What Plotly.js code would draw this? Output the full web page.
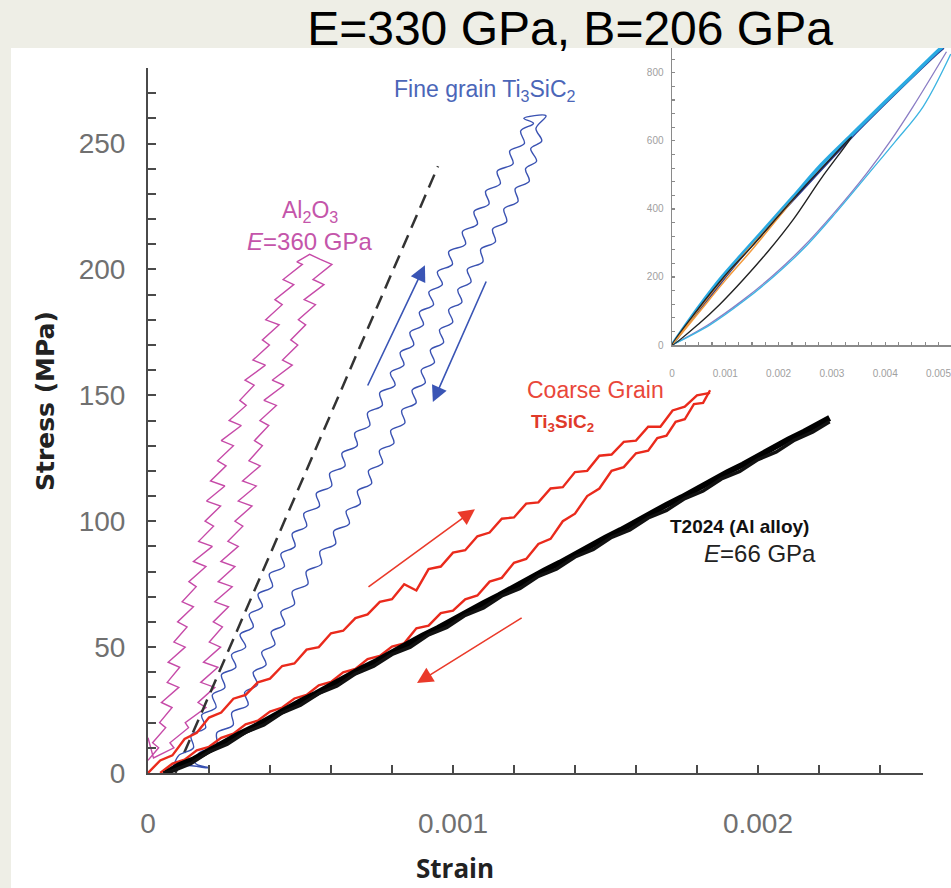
<!DOCTYPE html>
<html><head><meta charset="utf-8">
<script src="https://cdn.plot.ly/plotly-3.0.1.min.js"></script>
<style>
html,body{margin:0;padding:0;background:#eeeee6;width:951px;height:888px;overflow:hidden}
#panel{position:absolute;left:11px;top:48px;width:940px;height:840px;background:#fff}
#chart{position:absolute;left:0;top:0;width:951px;height:888px}
</style></head><body>
<div id="panel"></div><div id="chart"></div>
<script>
// ---- data (strain in microstrain, stress in MPa) ----
const al2o3StrainMicro = [0,35,15,58,38,79,44,101,63,104,66,122,85,128,97,149,112,158,134,190,149,211,166,215,187,238,192,252,205,256,228,280,240,306,266,322,301,348,318,385,344,398,375,430,386,440,416,478,443,506,488,
  530,565,
  603,541,577,512,549,493,517,468,491,441,473,407,446,380,421,367,396,349,375,331,368,310,355,296,341,285,311,262,296,239,285,230,276,219,264,214,244,201,238,182,229,173,219,164,190,122,133,72,85,18,
  0];
const al2o3Stress = [5,10,12,18,20,26,28,34,36,42,44,50,52,58,60,66,68,74,76,82,84,90,92,98,100,106,108,114,116,122,124,130,132,138,140,146,148,154,156,162,164,170,172,178,180,186,188,194,196,202,203,
  206,204,
  202,196,194,188,186,180,178,172,170,164,162,156,154,148,146,140,138,132,130,124,122,116,114,108,106,100,98,92,90,84,82,76,74,68,66,60,58,52,50,44,42,36,34,28,26,20,18,12,10,6,
  14];

const fineStrainMicro = [82,101,149,141,189,176,223,211,252,241,288,274,320,302,345,332,375,361,408,398,447,436,482,473,520,511,562,552,602,596,646,636,686,678,727,720,768,760,810,795,839,827,871,859,903,890,936,921,965,949,998,986,1041,1031,1080,1069,1118,1107,1155,1145,1197,1186,1234,1222,1264,
  1232,1305,
  1272,1291,1255,1274,1238,1250,1204,1213,1167,1176,1130,1139,1091,1098,1047,1059,1016,1029,986,999,956,969,926,939,896,909,866,879,832,842,796,806,759,769,723,733,687,696,650,660,609,615,564,569,519,524,473,480,436,448,404,416,373,387,345,359,317,328,275,279,226,225,168,154,
  200,110,50];
const fineStress = [2,7,10,15,18,23,26,31,34,39,42,47,50,55,58,63,66,71,74,79,82,87,90,95,98,103,106,111,114,119,122,127,130,135,138,143,146,151,154,159,162,167,170,175,178,183,186,191,194,199,202,207,210,215,218,223,226,231,234,239,242,247,250,255,258,
  260,261,
  256,251,248,243,240,235,232,227,224,219,216,211,208,203,200,195,192,187,184,179,176,171,168,163,160,155,152,147,144,139,136,131,128,123,120,115,112,107,104,99,96,91,88,83,80,75,72,67,64,59,56,51,48,43,40,35,32,27,24,19,16,11,8,4,
  2,3,0];

const dashStrainMicro = [90, 951];
const dashStress = [0, 241];

const coarseLoadStrainMicro = [0,40,80,120,160,200,240,280,320,360,400,440,480,520,560,600,640,680,720,760,800,840,880,920,960,1000,1040,1080,1120,1160,1200,1240,1280,1320,1360,1400,1440,1480,1520,1560,1600,1640,1680,1720,1760,1800,1843];
const coarseLoadStress = [0,5,7,13.5,16,22,24,29.5,31,36,37.5,42.5,43.5,49,50,55.5,56.5,61.5,63,68,69,75,72.5,81,82,87.5,88.5,94,95.5,101,101.5,107,107.5,113,113.5,119.5,120,126,126.5,131.5,132,137.5,137.5,144,145.5,150,151];
const coarseUnloadStrainMicro = [1843,1820,1790,1760,1730,1700,1670,1640,1600,1560,1520,1480,1440,1400,1360,1320,1280,1240,1200,1160,1120,1080,1040,1000,960,920,880,840,800,760,720,680,640,600,560,520,480,440,400,360,320,280,240,200,160,120,80,40];
const coarseUnloadStress = [152,147,146.5,140.5,139.5,134,133,128,127,121.5,120,113,110,103,100,93,91,85,83.5,77.5,76,70.5,69,64.5,63.5,58.5,57.5,51.5,50.2,46.5,45.2,41.3,40,36.2,34.8,31,29.6,26,24.4,20.8,19.3,15.6,14,10.4,9,5.3,3.7,0];

const alloyLoadStrainMicro = [60,100,150,200,250,300,350,400,450,500,550,600,650,700,750,800,850,900,950,1000,1050,1100,1150,1200,1250,1300,1350,1400,1450,1500,1550,1600,1650,1700,1750,1800,1850,1900,1950,2000,2050,2100,2150,2200,2235];
const alloyLoadStress = [0,3,5.5,9,12,15.5,18.5,22,25,28.5,31.5,35,38,41.5,44.5,48,51,54.5,57.5,61,64,67.5,70.5,74,77,80.5,83.5,87,90,93.5,96.5,100,103,106.5,109.5,113,116,119.5,122.5,126,129,132.5,135.5,139,141];
const alloyUnloadStrainMicro = [2235,2180,2120,2060,2000,1940,1880,1820,1760,1700,1640,1580,1520,1460,1400,1340,1280,1220,1160,1100,1040,980,920,860,800,740,680,620,560,500,440,380,320,260,200,140,80,50];
const alloyUnloadStress = [139.5,135.5,132.2,127.5,124.5,119.8,116.8,112,109,104.3,101.3,96.5,93.6,88.8,85.8,81,78.1,73.3,70.3,65.6,62.6,57.8,54.9,50,47.1,42.4,39.4,34.6,31.6,26.9,23.9,19.1,16.2,11.4,8.4,3.7,0.8,0];

// inset
const insetLoadStrainMicro = [0,300,600,900,1330,1800,2270,2800,3370,4000,4500,4970,5100];
const insetLoadStress = [0,68,132,193,270,352,435,530,618,715,790,862,880];
const insetNavyStrainMicro = [0,300,700,1330,2270,3370,4300,4970,5100];
const insetNavyStress = [0,62,140,262,425,610,755,855,873];
const insetPurpleStrainMicro = [5150,4520,4100,3660,3050,2460,1900,1330,700,0];
const insetPurpleStress = [862,700,600,506,390,288,205,132,62,0];
const insetCyanThinStrainMicro = [5230,4710,4200,3700,3080,2480,1920,1350,720,0];
const insetCyanThinStress = [855,700,600,506,390,285,203,130,60,0];
const insetBlackStrainMicro = [0,500,1000,1500,2000,2500,3000,3370,2800,2270,1800,1330,900,500,0];
const insetBlackStress = [0,108,205,290,380,468,552,612,490,368,275,191,120,62,0];
const insetOrangeStrainMicro = [0,600,1200,1800,2340,2000,1500,1000,500,0];
const insetOrangeStress = [0,125,240,345,441,375,280,190,95,0];

const toStrain = a => a.map(v => v / 1e6);

// ---- traces ----
const sansFont = 'Liberation Sans, Arial, Helvetica, sans-serif';
const traces = [
  {x: toStrain(al2o3StrainMicro), y: al2o3Stress, mode:'lines', line:{color:'#c64aa8', width:1.4}, name:'Al2O3'},
  {x: toStrain(dashStrainMicro), y: dashStress, mode:'lines', line:{color:'#333', width:2.5, dash:'14px,8px'}, name:'E=330 GPa'},
  {x: toStrain(fineStrainMicro), y: fineStress, mode:'lines', line:{color:'#3a52b2', width:1.4, shape:'spline', smoothing:1}, name:'Fine grain'},
  {x: toStrain(coarseLoadStrainMicro), y: coarseLoadStress, mode:'lines', line:{color:'#ea2a1c', width:2.4}, name:'Coarse loading'},
  {x: toStrain(coarseUnloadStrainMicro), y: coarseUnloadStress, mode:'lines', line:{color:'#ea2a1c', width:2.4}, name:'Coarse unloading'},
  {x: toStrain(alloyLoadStrainMicro), y: alloyLoadStress, mode:'lines', line:{color:'#000', width:6}, name:'T2024 loading'},
  {x: toStrain(alloyUnloadStrainMicro), y: alloyUnloadStress, mode:'lines', line:{color:'#111', width:3.5}, name:'T2024 unloading'},
  // inset
  {x: toStrain(insetPurpleStrainMicro), y: insetPurpleStress, xaxis:'x2', yaxis:'y2', mode:'lines', line:{color:'#8a7cc4', width:1.3, shape:'spline'}},
  {x: toStrain(insetCyanThinStrainMicro), y: insetCyanThinStress, xaxis:'x2', yaxis:'y2', mode:'lines', line:{color:'#3cb4e2', width:1.3, shape:'spline'}},
  {x: toStrain(insetNavyStrainMicro), y: insetNavyStress, xaxis:'x2', yaxis:'y2', mode:'lines', line:{color:'#2c3b8f', width:2, shape:'spline'}},
  {x: toStrain(insetLoadStrainMicro), y: insetLoadStress, xaxis:'x2', yaxis:'y2', mode:'lines', line:{color:'#2aaae2', width:3.5, shape:'spline'}},
  {x: toStrain(insetOrangeStrainMicro), y: insetOrangeStress, xaxis:'x2', yaxis:'y2', mode:'lines', line:{color:'#f39a3c', width:1.5, shape:'spline'}},
  {x: toStrain(insetBlackStrainMicro), y: insetBlackStress, xaxis:'x2', yaxis:'y2', mode:'lines', line:{color:'#222', width:1.4, shape:'spline'}}
];

const axisCommon = {showline:true, zeroline:false, showgrid:false, ticks:'inside'};
const mainTickFont = {family: sansFont, size: 28, color:'#707070'};

const arrow = (hx, hy, tx, ty, col) => ({x:hx, y:hy, ax:tx, ay:ty, xref:'x', yref:'y', axref:'x', ayref:'y', text:'', showarrow:true, arrowhead:2, arrowsize:2, arrowwidth:1.6, arrowcolor:col});

const layout = {
  width:951, height:888,
  margin:{l:148, r:0, t:48, b:115, pad:0},
  paper_bgcolor:'rgba(0,0,0,0)', plot_bgcolor:'rgba(0,0,0,0)',
  showlegend:false,
  title:{text:'E=330 GPa, B=206 GPa', font:{family:sansFont, size:48, color:'#000'}, x:0.5994, xanchor:'center', xref:'container', y:0.968, yref:'container', yanchor:'middle'},
  xaxis:Object.assign({}, axisCommon, {
    domain:[0,0.9651], range:[0,0.002541], anchor:'y',
    linewidth:2, linecolor:'#4a4a4a', ticklen:8, tickwidth:2, tickcolor:'#4a4a4a',
    tick0:0, dtick:0.001, tickformat:'.3~f', tickfont:mainTickFont, ticklabelstandoff:24,
    minor:{tick0:0, dtick:0.0002, ticks:'inside', ticklen:8, tickwidth:2, tickcolor:'#4a4a4a', showgrid:false}
  }),
  yaxis:Object.assign({}, axisCommon, {
    domain:[0,0.9724], range:[0,280], anchor:'x',
    linewidth:2, linecolor:'#4a4a4a', ticklen:8, tickwidth:2, tickcolor:'#4a4a4a',
    tick0:0, dtick:50, tickfont:mainTickFont, ticklabelstandoff:15,
    minor:{tick0:0, dtick:10, ticks:'inside', ticklen:8, tickwidth:2, tickcolor:'#4a4a4a', showgrid:false}
  }),
  xaxis2:Object.assign({}, axisCommon, {
    domain:[0.6526,1], range:[0,0.005235], anchor:'y2',
    linewidth:1.5, linecolor:'#8a8a8a', ticklen:3, tickwidth:1.2, tickcolor:'#8a8a8a',
    tick0:0, dtick:0.001, tickformat:'.3~f', tickfont:{family:sansFont, size:10, color:'#a0a0a0'}, ticklabelstandoff:18, ticklabeloverflow:'allow',
    minor:{tick0:0, dtick:0.00025, ticks:'inside', ticklen:3, tickwidth:1.2, tickcolor:'#8a8a8a', showgrid:false}
  }),
  yaxis2:Object.assign({}, axisCommon, {
    domain:[0.5903,1], range:[0,873], anchor:'x2',
    linewidth:1.5, linecolor:'#8a8a8a', ticklen:3, tickwidth:1.2, tickcolor:'#8a8a8a',
    tick0:0, dtick:200, tickfont:{family:sansFont, size:10, color:'#a0a0a0'}, ticklabelstandoff:5,
    minor:{tick0:0, dtick:40, ticks:'inside', ticklen:3, tickwidth:1.2, tickcolor:'#8a8a8a', showgrid:false}
  }),
  annotations:[
    {x:0.3823, y:-0.131, xref:'paper', yref:'paper', xanchor:'center', yanchor:'middle', text:'<b>Strain</b>', showarrow:false, font:{family:'Open Sans, DejaVu Sans, sans-serif', size:26, color:'#222'}},
    {x:-0.1283, y:0.513, xref:'paper', yref:'paper', xanchor:'center', yanchor:'middle', textangle:-90, text:'<b>Stress (MPa)</b>', showarrow:false, font:{family:'DejaVu Sans, Open Sans, sans-serif', size:25, color:'#222'}},
    {x:0.001105, y:271, xref:'x', yref:'y', text:'Fine grain Ti<sub>3</sub>SiC<sub>2</sub>', showarrow:false, font:{family:sansFont, size:23, color:'#4b66b8'}},
    {x:0.000531, y:223, xref:'x', yref:'y', text:'Al<sub>2</sub>O<sub>3</sub>', showarrow:false, font:{family:sansFont, size:23, color:'#c455aa'}},
    {x:0.000531, y:211, xref:'x', yref:'y', text:'<i>E</i>=360 GPa', showarrow:false, font:{family:sansFont, size:24, color:'#c455aa'}},
    {x:0.001466, y:152, xref:'x', yref:'y', text:'Coarse Grain', showarrow:false, font:{family:sansFont, size:23, color:'#e9473a'}},
    {x:0.00136, y:139, xref:'x', yref:'y', text:'<b>Ti<sub>3</sub>SiC<sub>2</sub></b>', showarrow:false, font:{family:sansFont, size:19, color:'#e03a2a'}},
    {x:0.00194, y:98, xref:'x', yref:'y', text:'<b>T2024 (Al alloy)</b>', showarrow:false, font:{family:sansFont, size:19, color:'#111'}},
    {x:0.002007, y:87, xref:'x', yref:'y', text:'<i>E</i>=66 GPa', showarrow:false, font:{family:sansFont, size:24, color:'#222'}},
    arrow(0.000908, 201.7, 0.000718, 153.3, '#3a55b5'),
    arrow(0.000934, 147.3, 0.001111, 195.8, '#3a55b5'),
    arrow(0.001072, 104.8, 0.000718, 73.5, '#ea3a2a'),
    arrow(0.000882, 35.7, 0.00123, 62, '#ea3a2a')
  ]
};

Plotly.newPlot('chart', traces, layout, {staticPlot:true, displayModeBar:false});
</script></body></html>
